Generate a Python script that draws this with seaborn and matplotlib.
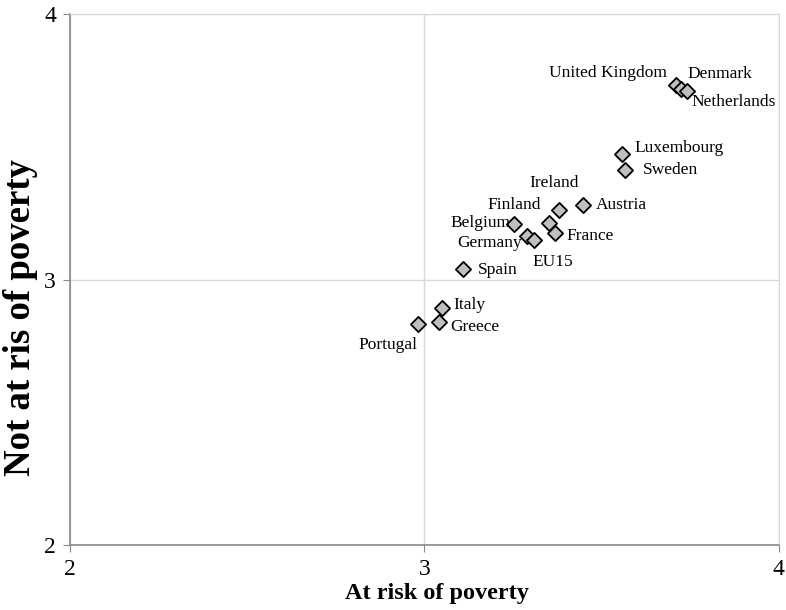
import pandas as pd
import matplotlib.pyplot as plt
import seaborn as sns

countries = ["United Kingdom", "Denmark", "Netherlands", "Luxembourg", "Sweden",
             "Ireland", "Austria", "Finland", "Belgium", "France", "Germany",
             "EU15", "Spain", "Italy", "Greece", "Portugal"]
at_risk = [3.71, 3.725, 3.74, 3.558, 3.565,
           3.38, 3.446, 3.35, 3.253, 3.368, 3.289,
           3.31, 3.11, 3.05, 3.04, 2.981]
not_at_risk = [3.732, 3.72, 3.711, 3.475, 3.412,
               3.264, 3.283, 3.214, 3.211, 3.174, 3.166,
               3.151, 3.04, 2.893, 2.839, 2.834]

# label offsets in pixels (dx, dy, ha)
label_pos = {
    "United Kingdom": (-9, 12, "right"),
    "Denmark": (6, 15, "left"),
    "Netherlands": (5, -11, "left"),
    "Luxembourg": (12, 6, "left"),
    "Sweden": (18, 0, "left"),
    "Ireland": (-5, 27, "center"),
    "Austria": (13, 0, "left"),
    "Finland": (-8, 18, "right"),
    "Belgium": (-4, 1, "right"),
    "France": (12, -3, "left"),
    "Germany": (-5, -7, "right"),
    "EU15": (18, -22, "center"),
    "Spain": (14, -1, "left"),
    "Italy": (11, 3, "left"),
    "Greece": (12, -5, "left"),
    "Portugal": (0, -21, "right"),
}

df = pd.DataFrame({"country": countries, "x": at_risk, "y": not_at_risk})

sns.set_style("white")
plt.rcParams['font.family'] = ['Liberation Serif', 'DejaVu Serif']
plt.rcParams['text.color'] = 'black'

fig = plt.figure(figsize=(7.86, 6.10), dpi=100)
ax = fig.add_axes([0.089, 0.1066, 0.902, 0.870])

sns.scatterplot(data=df, x="x", y="y", marker="D", s=60, color="#bfbfbf",
                edgecolor="black", linewidth=1.3, ax=ax, zorder=3)

for _, row in df.iterrows():
    dx, dy, ha = label_pos[row["country"]]
    ax.annotate(row["country"], (row["x"], row["y"]), xytext=(dx, dy),
                textcoords="offset pixels", ha=ha, va="center", fontsize=12.5,
                color="black")

ax.set_xlim(2, 4)
ax.set_ylim(2, 4)
ax.set_xticks([2, 3, 4])
ax.set_yticks([2, 3, 4])
ax.grid(True, color="#d9d9d9", linewidth=1)
for side in ["top", "right"]:
    ax.spines[side].set_color("#d9d9d9")
for side in ["left", "bottom"]:
    ax.spines[side].set_color("#888888")
    ax.spines[side].set_linewidth(1.2)
ax.tick_params(axis="both", direction="out", length=5, color="#888888",
               labelsize=17, labelcolor="black", pad=5, left=True, bottom=True)
ax.set_xlabel("")
ax.set_ylabel("")

# axis titles placed like the original (y title is larger and sits lower)
fig.text(437 / 786, 1 - 594 / 610, "At risk of poverty", fontsize=17.5,
         fontweight="bold", ha="center", va="center")
fig.text(21 / 786, 1 - 318 / 610, "Not at ris of poverty", fontsize=26.5,
         fontweight="bold", ha="center", va="center", rotation=90)

fig.savefig("out.png", dpi=100)
